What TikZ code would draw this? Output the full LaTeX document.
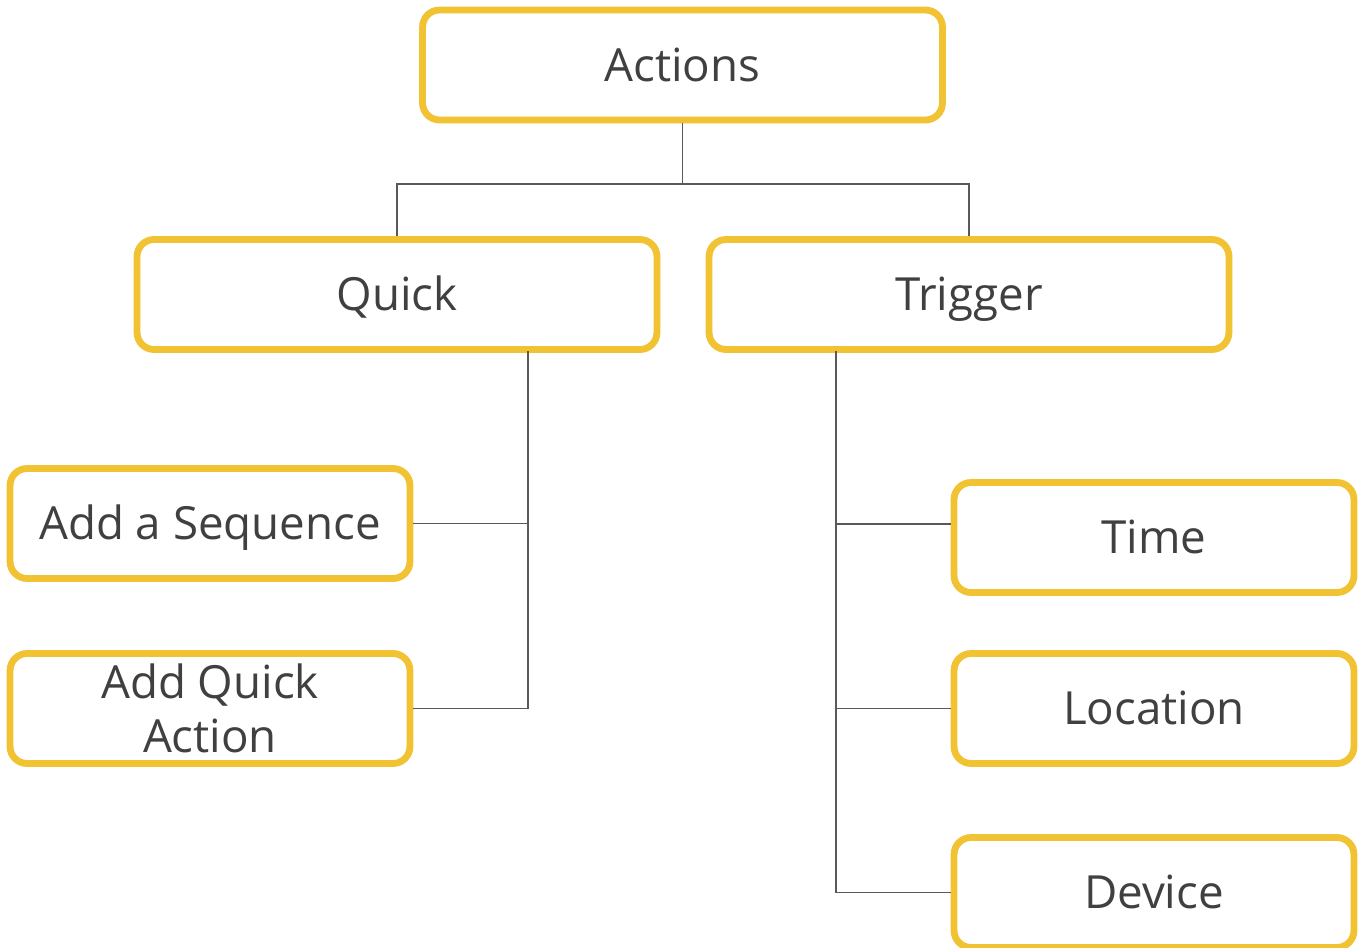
\documentclass[tikz,border=0pt]{standalone}
\usepackage{fontspec}
\setmainfont{Open Sans}
\definecolor{boxyellow}{HTML}{F1C232}
\definecolor{linegray}{HTML}{595959}
\definecolor{txtgray}{HTML}{404040}

\begin{document}
\begin{tikzpicture}[x=0.02cm, y=-0.02cm,
    item/.style={draw=boxyellow, line width=3.9pt, rounded corners=0.34cm, fill=white,
      text=txtgray, align=center, minimum height=2.2cm,
      text height=18.6pt, text depth=0pt,
      font=\fontsize{26}{31}\selectfont},
    wide/.style={item, minimum width=10.4cm},
    leaf/.style={item, minimum width=8cm},
    link/.style={draw=linegray, line width=1.1pt}]
  \useasboundingbox (0,0) rectangle (1366,947);
  % top level
  \node[wide] (Actions) at (682.5,65) {Actions};
  \node[wide] (Quick) at (397,294.5) {Quick};
  \node[wide] (Trigger) at (969,294.5) {Trigger};
  % quick actions
  \node[leaf] (Seq) at (210,523.5) {Add a Sequence};
  \node[leaf, text height={}, text depth={}] (AddQuick) at (210,708.5) {Add Quick\\Action};
  % triggers
  \node[leaf] (Time) at (1154,537.5) {Time};
  \node[leaf] (Location) at (1154,708.5) {Location};
  \node[leaf] (Device) at (1154,892.5) {Device};
  % connectors
  \coordinate (split) at (682.5,184);
  \coordinate (qtrunk) at (528,351);
  \coordinate (ttrunk) at (836,351);
  \draw[link] (Actions.south) -- (split);
  \draw[link] (Quick.north) |- (split) -| (Trigger.north);
  \draw[link] (qtrunk) |- (AddQuick.east);
  \draw[link] (qtrunk |- Seq.east) -- (Seq.east);
  \draw[link] (ttrunk) |- (Device.west);
  \draw[link] (ttrunk |- Location.west) -- (Location.west);
  \draw[link] ([yshift=0.27cm]ttrunk |- Time.west) -- ([yshift=0.27cm]Time.west);
\end{tikzpicture}
\end{document}
